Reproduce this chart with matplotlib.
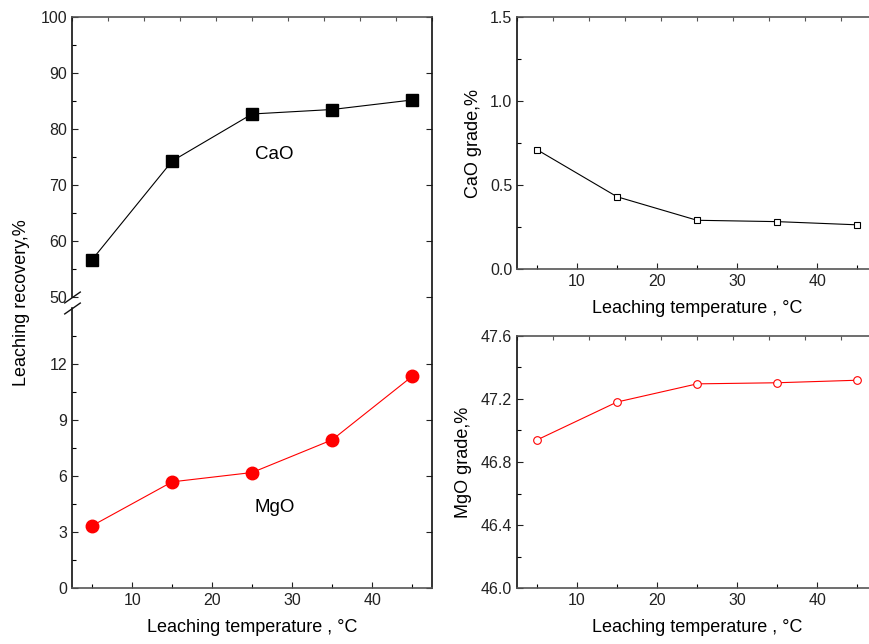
import numpy as np
import matplotlib
matplotlib.use('Agg')
import matplotlib.pyplot as plt

plt.rcParams['font.family'] = ['Liberation Sans', 'DejaVu Sans']

# 数据
temp = [5, 15, 25, 35, 45]
cao_recovery = [56.7, 74.3, 82.7, 83.5, 85.2]
mgo_recovery = [3.35, 5.7, 6.2, 7.95, 11.35]
cao_grade = [0.71, 0.43, 0.29, 0.282, 0.263]
mgo_grade = [46.94, 47.18, 47.295, 47.302, 47.318]

xlabel = 'Leaching temperature , °C'


# 断轴: 0-15 和 50-100
def fwd(y):
    y = np.asarray(y, dtype=float)
    return np.where(y <= 15, y / 15 * 280,
                    np.where(y >= 50, 291 + (y - 50) * 5.6, 280 + (y - 15) / 35 * 11))


def inv(v):
    v = np.asarray(v, dtype=float)
    return np.where(v <= 280, v * 15 / 280,
                    np.where(v >= 291, 50 + (v - 291) / 5.6, 15 + (v - 280) / 11 * 35))


def style_axes(ax):
    ax.set_xlim(2.5, 47.5)
    ax.set_xticks([10, 20, 30, 40])
    ax.set_xticks([5, 15, 25, 35, 45], minor=True)
    ax.tick_params(which='major', direction='in', length=4, width=0.8, labelsize=11.5,
                   right=True, colors='#222')
    ax.tick_params(which='minor', direction='in', length=3, width=0.8)
    ax.tick_params(axis='y', which='minor', right=False)
    for s in ['top', 'bottom']:
        ax.spines[s].set_color('#555')
        ax.spines[s].set_linewidth(1.2)
    for s in ['left', 'right']:
        ax.spines[s].set_color('#111')
        ax.spines[s].set_linewidth(1.2)
    sec = ax.secondary_xaxis('top', functions=(lambda x: (x - 2.5) / 4.5, lambda t: t * 4.5 + 2.5))
    sec.set_xticks(range(11))
    sec.tick_params(direction='in', length=3, labeltop=False, colors='#555')
    sec.spines['top'].set_visible(False)
    ax.set_xlabel(xlabel, fontsize=13, labelpad=8)


fig = plt.figure(figsize=(8.69, 6.44), dpi=100)

# 左图: 回收率
ax1 = fig.add_axes([0.083, 0.0865, 0.4143, 0.887])
ax1.set_yscale('function', functions=(fwd, inv))
ax1.plot(temp, cao_recovery, 's-', color='k', lw=0.8, ms=8)
ax1.plot(temp, mgo_recovery, 'o-', color='red', lw=0.8, ms=9)
ax1.set_ylim(0, 100)
ax1.set_yticks([0, 3, 6, 9, 12, 50, 60, 70, 80, 90, 100])
ax1.set_yticks([1.5, 4.5, 7.5, 10.5, 13.5, 55, 65, 75, 85, 95], minor=True)
style_axes(ax1)
ax1.spines['left'].set_visible(False)
ytr = ax1.get_yaxis_transform()
ax1.plot([0, 0], [0, 15], transform=ytr, color='#111', lw=1.2, clip_on=False)
ax1.plot([0, 0], [50, 100], transform=ytr, color='#111', lw=1.2, clip_on=False)
ax1.plot([0, 0], [15, 50], transform=ytr, ls='none', marker=[(-1, -0.7), (1, 0.7)],
         ms=12, mew=1, color='#111', clip_on=False)
ax1.text(27.8, 75.4, 'CaO', fontsize=13.5, ha='center', va='center')
ax1.text(27.8, 4.3, 'MgO', fontsize=13.5, ha='center', va='center')
ax1.set_ylabel('Leaching recovery,%', fontsize=13, labelpad=8)

# 右上: CaO 品位
ax2 = fig.add_axes([0.595, 0.5823, 0.4143, 0.3913])
ax2.plot(temp, cao_grade, 's-', color='k', lw=0.8, ms=5, mfc='white', mew=0.8)
ax2.set_ylim(0, 1.5)
ax2.set_yticks([0.0, 0.5, 1.0, 1.5])
ax2.set_yticks([0.25, 0.75, 1.25], minor=True)
ax2.set_yticklabels(['0.0', '0.5', '1.0', '1.5'])
style_axes(ax2)
ax2.set_ylabel('CaO grade,%', fontsize=13, labelpad=6)

# 右下: MgO 品位
ax3 = fig.add_axes([0.595, 0.0865, 0.4143, 0.3922])
ax3.plot(temp, mgo_grade, 'o-', color='red', lw=0.8, ms=5.5, mfc='white', mew=0.8)
ax3.set_ylim(46.0, 47.6)
ax3.set_yticks([46.0, 46.4, 46.8, 47.2, 47.6])
ax3.set_yticks([46.2, 46.6, 47.0, 47.4], minor=True)
ax3.set_yticklabels(['46.0', '46.4', '46.8', '47.2', '47.6'])
style_axes(ax3)
ax3.set_ylabel('MgO grade,%', fontsize=13, labelpad=6)

fig.savefig('out.png', dpi=100)
